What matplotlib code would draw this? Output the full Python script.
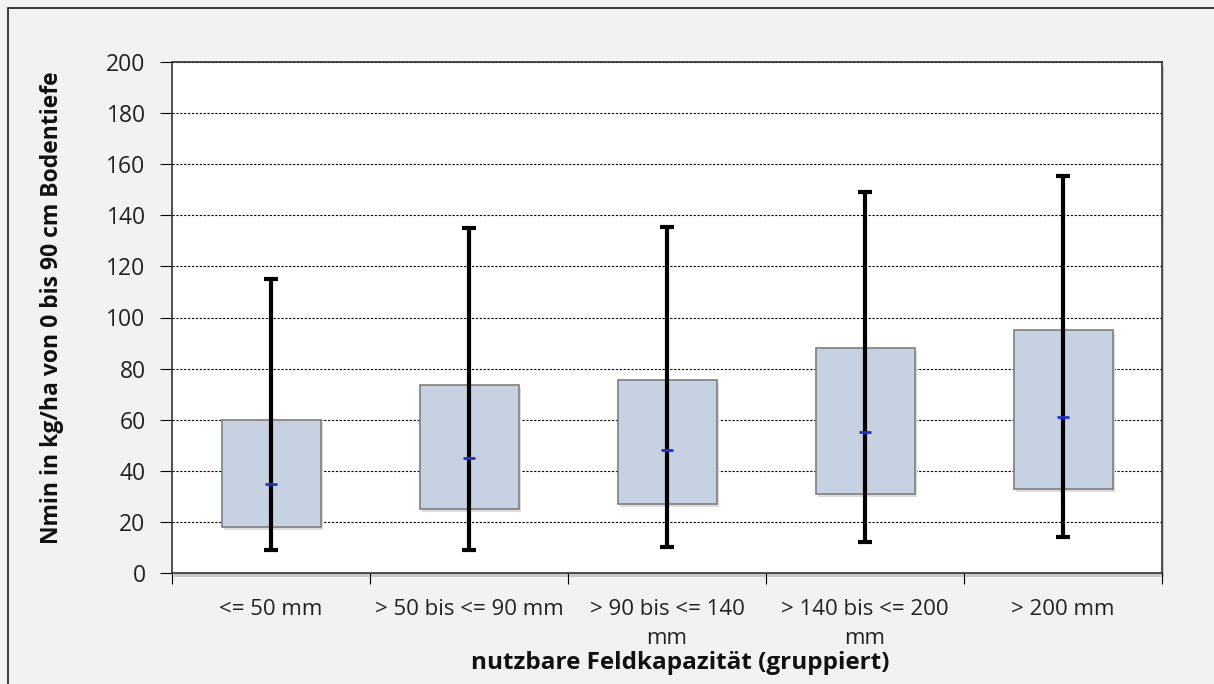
import matplotlib
matplotlib.use("Agg")
import matplotlib.pyplot as plt
from matplotlib.patches import Rectangle

categories = ["<= 50 mm", "> 50 bis <= 90 mm", "> 90 bis <= 140\nmm", "> 140 bis <= 200\nmm", "> 200 mm"]
q1 = [18, 25, 27, 31, 33]
q3 = [60, 73.5, 75.5, 88, 95]
whisk_low = [9, 9, 10, 12, 14]
whisk_high = [115, 135, 135.5, 149, 155.5]
median = [35, 45, 48, 55, 61]

plt.rcParams['font.family'] = ['Open Sans', 'DejaVu Sans']

W, H = 1214, 684
fig = plt.figure(figsize=(W / 100, H / 100), dpi=100, facecolor="#f2f2f2")
# figure border
fig.patches.append(Rectangle((8 / W, -0.05), 1.2, (H - 8) / H + 0.05, transform=fig.transFigure,
                             fill=False, edgecolor="#1a1a1a", linewidth=1.2))

ax = fig.add_axes([172 / W, 1 - 573 / H, (1162 - 172) / W, (573 - 62) / H])
ax.set_facecolor("white")
ax.set_xlim(0, 5)
ax.set_ylim(0, 200)
ax.set_yticks(range(0, 201, 20))
ax.yaxis.grid(True, linestyle=(0, (2, 1.5)), color="black", linewidth=0.8)
ax.set_axisbelow(True)

# shadow of plot area
fig.patches.append(Rectangle((174 / W, 1 - 577 / H), (1162 - 172) / W, (573 - 62) / H,
                             transform=fig.transFigure, facecolor="#c8c8c8", edgecolor="none", zorder=-1))

bw = 0.5
for i in range(len(categories)):
    x = i + 0.5
    # shadow
    ax.add_patch(Rectangle((x - bw / 2 + 0.012, q1[i] - 1.2), bw, q3[i] - q1[i],
                           facecolor="#dcdcdc", edgecolor="none", zorder=2))
    ax.add_patch(Rectangle((x - bw / 2, q1[i]), bw, q3[i] - q1[i],
                           facecolor="#c6d2e2", edgecolor="#7f7f7f", linewidth=1.2, zorder=3))
    ax.vlines(x, whisk_low[i], whisk_high[i], color="black", linewidth=3, zorder=4)
    ax.hlines([whisk_low[i], whisk_high[i]], x - 0.035, x + 0.035, color="black", linewidth=3, zorder=4)
    ax.hlines(median[i], x - 0.032, x + 0.032, color="#1f2fe0", linewidth=2, zorder=5)

ax.set_xticks(range(0, 6))
ax.set_xticklabels([])
ax.set_xticks([i + 0.5 for i in range(5)], minor=True)
ax.set_xticklabels(categories, minor=True, fontsize=16, color="#222222", va="top")
ax.tick_params(axis="x", which="minor", length=0, pad=19)
ax.tick_params(axis="x", which="major", length=8, direction="out", color="black")
ax.tick_params(axis="y", length=9, direction="out", labelsize=16.5, pad=10, labelcolor="#222222")
for lbl in ax.get_xticklabels(minor=True):
    lbl.set_linespacing(1.45)

for s in ax.spines.values():
    s.set_color("#333333")
    s.set_linewidth(1.2)

fig.text(52 / W, 1 - 308 / H, "Nmin in kg/ha von 0 bis 90 cm Bodentiefe", fontsize=16.5, fontweight="bold",
         rotation=90, ha="center", va="center", color="#111111")
fig.text(680 / W, 1 - 663 / H, "nutzbare Feldkapazität (gruppiert)", fontsize=17.5, fontweight="bold",
         ha="center", va="center", color="#111111")

fig.savefig("out.png", dpi=100, facecolor=fig.get_facecolor())
